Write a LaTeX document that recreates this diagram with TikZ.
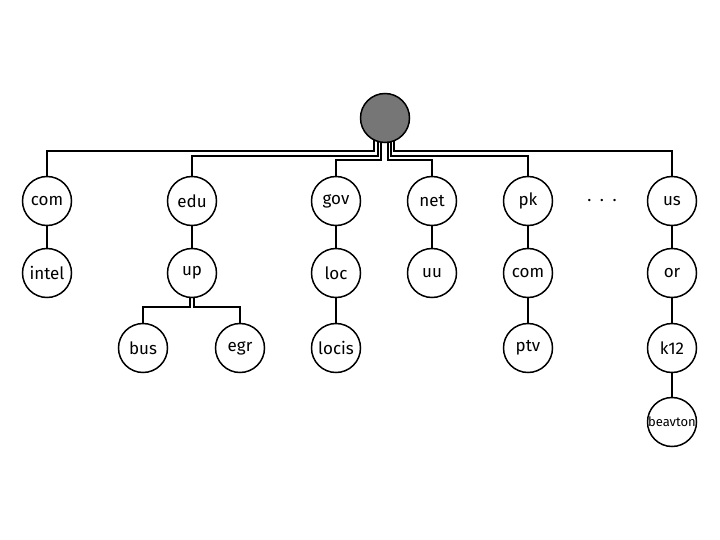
\documentclass[tikz,border=0pt]{standalone}
\usepackage{fontspec}
\setmainfont{Fira Sans}
\usetikzlibrary{backgrounds}
\definecolor{rootgray}{RGB}{118,118,118}
\begin{document}
\begin{tikzpicture}[x=1pt,y=-1pt,
  dn/.style={circle,draw,line width=1.5pt,fill=white,minimum size=49pt,inner sep=0pt,font=\fontsize{17}{19}\selectfont},
  rootn/.style={dn,fill=rootgray},
  ln/.style={line width=1.1pt}]
\useasboundingbox (0,0) rectangle (720,540);
\node[rootn] (root) at (385,118) {};
\node[dn] (com) at (47,201) {com};
\node[dn] (edu) at (192,201) {edu};
\node[dn] (gov) at (336,201) {gov};
\node[dn] (net) at (432,201) {net};
\node[dn] (pk) at (528,201) {pk};
\node (dots) at (602,201) {\fontsize{17}{19}\selectfont .\,\,\,.\,\,\,.};
\node[dn] (us) at (672,201) {us};
\node[dn] (intel) at (47,273) {intel};
\node[dn] (up) at (192,273) {up};
\node[dn] (loc) at (336,273) {loc};
\node[dn] (uu) at (432,273) {uu};
\node[dn] (com2) at (528,273) {com};
\node[dn] (or) at (672,273) {or};
\node[dn] (bus) at (143,348) {bus};
\node[dn] (egr) at (240,348) {egr};
\node[dn] (locis) at (336,348) {locis};
\node[dn] (ptv) at (528,348) {ptv};
\node[dn] (k12) at (672,348) {k12};
\node[dn,font=\fontsize{13}{15}\selectfont] (beav) at (672,422) {beavton};
\begin{pgfonlayer}{background}
\draw[ln] ([xshift=-11pt]root.center) |- (com.center |- 0,151) -- (com.center);
\draw[ln] ([xshift=-7pt]root.center) |- (edu.center |- 0,156) -- (edu.center);
\draw[ln] ([xshift=-4pt]root.center) |- (gov.center |- 0,160) -- (gov.center);
\draw[ln] ([xshift=3pt]root.center) |- (net.center |- 0,160) -- (net.center);
\draw[ln] ([xshift=6pt]root.center) |- (pk.center |- 0,156) -- (pk.center);
\draw[ln] ([xshift=9pt]root.center) |- (us.center |- 0,151) -- (us.center);
\draw[ln] (com) -- (intel);
\draw[ln] (edu) -- (up);
\draw[ln] (gov) -- (loc) -- (locis);
\draw[ln] (net) -- (uu);
\draw[ln] (pk) -- (com2) -- (ptv);
\draw[ln] (us) -- (or) -- (k12) -- (beav);
\draw[ln] ([xshift=-2pt]up.center) |- (bus.center |- 0,307) -- (bus.center);
\draw[ln] ([xshift=2pt]up.center) |- (egr.center |- 0,307) -- (egr.center);
\end{pgfonlayer}
\end{tikzpicture}
\end{document}
